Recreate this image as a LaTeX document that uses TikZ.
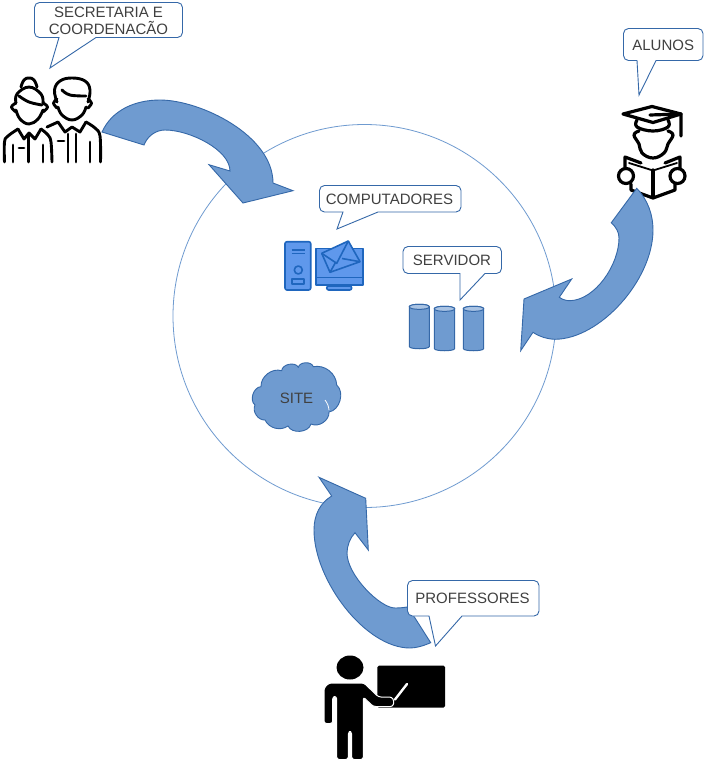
\documentclass[tikz,border=0pt]{standalone}
\usepackage{fontspec}
\usetikzlibrary{shapes.geometric}
\setmainfont{Liberation Sans}
\definecolor{bluefill}{HTML}{6F9BD0}
\definecolor{blueline}{HTML}{3568A8}
\definecolor{iconfill}{HTML}{5F98EC}
\definecolor{iconline}{HTML}{1F66BE}
\definecolor{toptint}{HTML}{A9C3E3}
\definecolor{txt}{HTML}{404040}
\tikzset{
  bubble/.style={draw=blueline,fill=white,line width=0.9pt,line join=miter},
  bubbletext/.style={text=txt,font=\fontsize{15}{16.6}\selectfont,align=center,inner sep=0pt},
  bigarrow/.style={draw=blueline,fill=bluefill,line width=0.9pt,line join=miter},
  ink/.style={draw=black,line width=2.9pt,line cap=round,line join=round},
  icon/.style={draw=iconline,fill=iconfill,line width=1.6pt,line join=round},
  drum/.style={draw=blueline,fill=bluefill,line width=1pt},
}
\newcommand\callout[8]{%
  \draw[bubble,rounded corners=5pt] (#1,#2) -- (#3,#2) -- (#3,#4)
    [sharp corners] -- (#8,#4) -- (#6,#7) -- (#5,#4)
    [rounded corners=5pt] -- (#1,#4) -- cycle;}
\newcommand\drumshape[4]{%
  \draw[drum] (#1,#3) .. controls (#1,#3-3.4) and (#2,#3-3.4) .. (#2,#3)
    -- (#2,#4) .. controls (#2,#4+3) and (#1,#4+3) .. (#1,#4) -- cycle;
  \draw[drum,fill=toptint] (#1,#3) .. controls (#1,#3-3.4) and (#2,#3-3.4) .. (#2,#3)
    .. controls (#2,#3+3.4) and (#1,#3+3.4) .. (#1,#3) -- cycle;}
\begin{document}
\begin{tikzpicture}[x=1pt,y=-1pt]
\useasboundingbox (0,0) rectangle (706,763);
\fill[white] (0,0) rectangle (706,763);

% big circle
\draw[draw=bluefill,line width=0.8pt] (364.5,316) circle[radius=191.5pt];

% secretaria and coordenacao people
\begin{scope}[ink]
  % woman
  \draw plot[smooth,tension=.7] coordinates {(16,103) (17,94) (29,87) (41,94) (43,103)};
  \draw plot[smooth,tension=.7] coordinates {(16,103) (11.5,107) (16,112)};
  \draw plot[smooth,tension=.7] coordinates {(43,103) (47.5,107) (43,112)};
  \draw plot[smooth,tension=.7] coordinates {(16,110) (20,119) (29,124) (38,119) (43,110)};
  \draw plot[smooth,tension=.7] coordinates {(19,96) (29,102) (42,105)};
  \draw plot[smooth,tension=.8] coordinates {(21,87) (24,80) (29,78) (34,80) (37,87)};
  \draw plot[smooth,tension=.6] coordinates {(4.5,162) (4.5,142) (8,136) (18,129)};
  \draw (18,129) -- (24,139) -- (29,133) -- (35,139) -- (41,129);
  \draw plot[smooth,tension=.6] coordinates {(41,129) (48,135) (51,142) (52,162)};
  \draw (13,145) -- (13,162) (28.5,135) -- (28.5,162) (43,145) -- (43,162);
  \draw (19,148) -- (24,148);
  % man
  \draw plot[smooth,tension=.7] coordinates {(57,102) (54.5,90) (60,81) (72,78) (85,81) (90,90) (88,102)};
  \draw plot[smooth,tension=.7] coordinates {(57,99) (53.5,103) (57,108)};
  \draw plot[smooth,tension=.7] coordinates {(88,99) (91.5,103) (88,108)};
  \draw plot[smooth,tension=.7] coordinates {(58,107) (62,115) (72,120) (82,115) (86,107)};
  \draw plot[smooth,tension=.7] coordinates {(62,90) (70,95) (86,96)};
  \draw (47,127) -- (58,122) -- (65,132) -- (72,127) -- (80,132) -- (86,122);
  \draw plot[smooth,tension=.6] coordinates {(86,122) (95,128) (100,136) (100.5,162)};
  \draw (68,134) -- (68,162) (76,134) -- (76,162) (90,142) -- (90,162);
  \draw (58,141) -- (64,141);
\end{scope}

% student
\begin{scope}[ink,line width=3.2pt]
  \draw[fill=white] (623,114) -- (652,106.5) -- (681,114) -- (653,122.5) -- cycle;
  \draw (650,115) -- (681,114) -- (681,136);
  \draw plot[smooth,tension=.7] coordinates {(637,120) (637,127) (653,131) (668,127) (668,120)};
  \draw plot[smooth,tension=.7] coordinates {(639,131) (634,135) (639,144) (642,153) (653,158) (664,153) (668,144) (673,135) (668,131)};
  \draw (625,168) -- (625,157) -- (641,163) (680,168) -- (680,157) -- (665,163);
  \draw[line width=1.8pt] (629,163) -- (653,170.5) -- (677,163);
  \draw (631,184) -- (631,190) -- (653,198) -- (675,190) -- (675,184);
  \draw (653,170) -- (653,197);
  \draw[fill=white] (626,176) circle[radius=7.5pt] (677.5,176) circle[radius=7.5pt];
\end{scope}

% teacher
\node[ellipse,fill=black,minimum width=27pt,minimum height=24pt,inner sep=0pt] (teacherhead) at (350,667.5) {};
\fill[black,rounded corners=1.5pt] (377.3,665.7) rectangle (445,707.7);
\draw[white,line width=1pt,fill=black,rounded corners=2.5pt,line join=round]
  (324,723.5) -- (332.7,723.5) -- (332.7,696.5) -- (336.7,696.5) -- (336.7,759.5) -- (348.3,759.5)
  -- (348.3,731.7) -- (351.7,731.7) -- (351.7,759.5) -- (363.3,759.5) -- (363.3,697) -- (373.3,706.5)
  -- (393,706.5) -- (394,701) -- (392,697) -- (378.5,697) -- (364,683) -- (329,683) -- (324,688) -- cycle;
\draw[white,line width=2.4pt,line cap=round] (395,699.5) -- (407,684);

% big arrows
\draw[bigarrow] (102,132) .. controls (112,110) and (135,100) .. (160,100)
  .. controls (200,100) and (273,135) .. (273,183)
  -- (293,190.7) -- (243,203) -- (209,164.7) -- (230,171)
  .. controls (230,150) and (190,130) .. (165,130)
  .. controls (155,130) and (147,137) .. (144,145) -- cycle;
\draw[bigarrow] (636.7,188.3) .. controls (648,200) and (653,215) .. (653,230)
  .. controls (653,280) and (600,339) .. (555,339.3)
  .. controls (547,339) and (540,337) .. (533,332.3)
  -- (520.7,350.7) -- (524,299) -- (571.7,279) -- (559.3,297.3)
  .. controls (563,300) and (567,300.7) .. (570,300.7)
  .. controls (595,300) and (619,265) .. (619,238)
  .. controls (619,232) and (616,227) .. (611.3,222.7) -- cycle;
\draw[bigarrow] (430.7,642.7) .. controls (423,646) and (416,648) .. (410,648)
  .. controls (365,648) and (314,580) .. (314,530)
  .. controls (314,515) and (320,503) .. (331.7,496)
  -- (319,477.3) -- (365.7,498.3) -- (368.3,550) -- (355,532.7)
  .. controls (350,538) and (347,546) .. (347,553)
  .. controls (347,575) and (380,608) .. (395,608)
  .. controls (400,608) and (404,607.5) .. (407,607) -- (415,618) -- cycle;

% computer
\draw[icon,rounded corners=2pt] (285,241.7) rectangle (310.7,290);
\draw[iconline,line width=1.4pt] (291.7,250) -- (305,250) (291.7,253.5) -- (305,253.5);
\draw[icon,fill=none] (298.3,270) circle[radius=4pt];
\draw[icon,fill=none] (291.7,279) rectangle (304,283.7);
\draw[icon] (316,248.3) rectangle (362.7,285);
\draw[iconline,line width=1.2pt] (316,277.3) -- (362.7,277.3);
\draw[icon] (335,285) rectangle (343.3,288);
\draw[icon,rounded corners=2pt] (326.7,286) rectangle (351.7,290);
\draw[icon] (321.7,253.3) -- (348.3,241) -- (360,261.7) -- (330,272.3) -- cycle;
\draw[icon,fill=none] (321.7,253.3) -- (336.7,263.3) -- (348.3,241);
\draw[icon,fill=none] (330,272.3) -- (335.5,262.5) (360,261.7) -- (342,258.5);

% server drums
\drumshape{409.3}{429.3}{306.8}{346.5}
\drumshape{434.3}{454.7}{308.8}{348.5}
\drumshape{463.3}{483.7}{308.8}{348.5}

% cloud
\draw[draw=blueline,fill=bluefill,line width=0.9pt] (261,386.7)
  to[bend left=55] (281.7,370.7)
  to[bend left=75] (298.3,367.3)
  to[bend left=75] (313.3,366.7)
  to[bend left=50] (336.7,385)
  to[bend left=65] (329,412)
  to[bend left=60] (311,424)
  to[bend left=70] (288,426)
  to[bend left=50] (265,420)
  to[bend left=60] (255,405)
  to[bend left=70] cycle;
\draw[white,line width=0.8pt] (325,400) to[bend left=15] (329,410);
\node[bubbletext] (site) at (296.5,398.5) {SITE};

% callouts
\callout{34.5}{2.5}{182.5}{37.5}{59}{50}{68}{96}
\node[bubbletext] (secretaria) at (108.5,21) {SECRETARIA E\\COORDENACÃO};
\callout{623.5}{28.5}{703}{60.5}{637}{639}{95}{656}
\node[bubbletext] (alunos) at (663.2,45) {ALUNOS};
\callout{319.5}{185.5}{461}{212}{343}{337}{229}{378}
\node[bubbletext] (computadores) at (389.5,199) {COMPUTADORES};
\callout{403}{246.5}{501.5}{273.5}{460}{460}{300}{485}
\node[bubbletext] (servidor) at (452,260) {SERVIDOR};
\callout{407.5}{580.5}{539}{616}{429}{435.5}{646}{462}
\node[bubbletext] (professores) at (472.5,598) {PROFESSORES};
\end{tikzpicture}
\end{document}
